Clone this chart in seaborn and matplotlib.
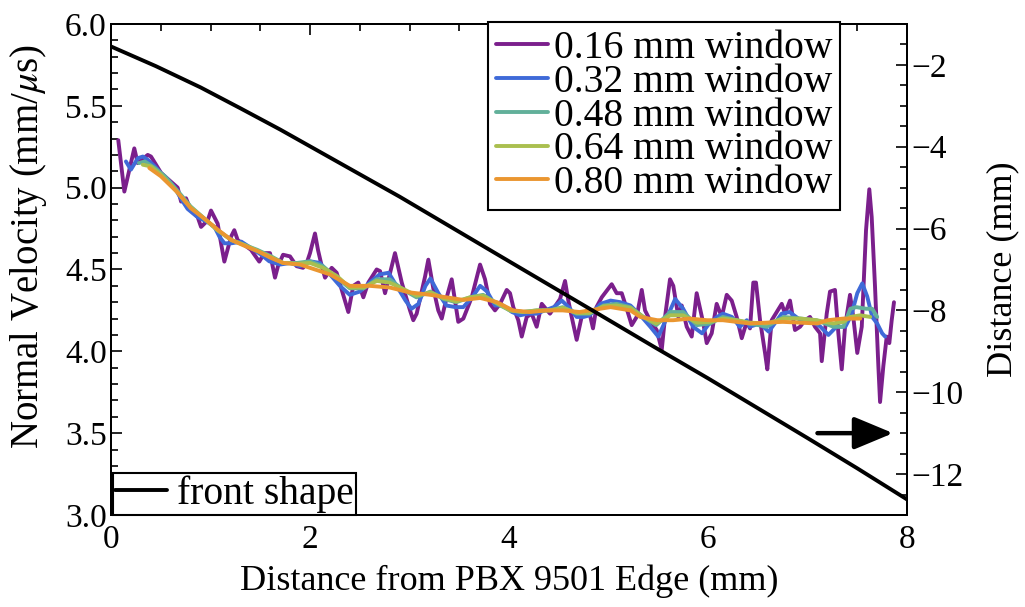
import matplotlib
matplotlib.use("Agg")
import matplotlib.pyplot as plt
from matplotlib.lines import Line2D
from matplotlib.ticker import MultipleLocator, FormatStrFormatter
import numpy as np
import pandas as pd
import seaborn as sns

# velocity traces (x in mm, v in mm/us)
x_016 = [0.073, 0.134, 0.234, 0.268, 0.369, 0.402, 0.503, 0.670, 0.704, 0.754,
         0.804, 0.871, 0.905, 0.972, 1.005, 1.072, 1.106, 1.139, 1.206, 1.239,
         1.273, 1.340, 1.407, 1.490, 1.541, 1.598, 1.648, 1.678, 1.729, 1.799,
         1.866, 1.930, 1.967, 2.000, 2.050, 2.080, 2.118, 2.151, 2.218, 2.268,
         2.319, 2.385, 2.435, 2.485, 2.536, 2.586, 2.670, 2.704, 2.754, 2.854,
         2.922, 3.005, 3.038, 3.072, 3.156, 3.189, 3.239, 3.289, 3.324, 3.374,
         3.424, 3.457, 3.490, 3.541, 3.625, 3.709, 3.759, 3.809, 3.859, 3.910,
         3.977, 4.010, 4.043, 4.093, 4.128, 4.178, 4.228, 4.278, 4.329, 4.412,
         4.513, 4.563, 4.596, 4.630, 4.680, 4.730, 4.781, 4.814, 4.844, 4.879,
         4.932, 5.032, 5.082, 5.133, 5.183, 5.233, 5.283, 5.334, 5.367, 5.417,
         5.484, 5.535, 5.568, 5.618, 5.651, 5.702, 5.736, 5.786, 5.836, 5.886,
         5.953, 5.987, 6.037, 6.087, 6.138, 6.188, 6.238, 6.288, 6.339, 6.389,
         6.422, 6.455, 6.482, 6.523, 6.573, 6.596, 6.640, 6.690, 6.741, 6.774,
         6.824, 6.874, 6.925, 6.975, 7.025, 7.075, 7.126, 7.143, 7.193, 7.226,
         7.276, 7.310, 7.344, 7.377, 7.427, 7.460, 7.500, 7.545, 7.588, 7.621,
         7.645, 7.678, 7.712, 7.729, 7.762, 7.796, 7.822, 7.846, 7.869]
v_016 = [5.29, 4.976, 5.24, 5.15, 5.20, 5.19, 5.09, 5.00, 4.915, 4.935,
         4.86, 4.82, 4.76, 4.80, 4.86, 4.78, 4.66, 4.548, 4.70, 4.74,
         4.68, 4.65, 4.62, 4.548, 4.60, 4.60, 4.45, 4.52, 4.59, 4.58,
         4.52, 4.51, 4.54, 4.60, 4.72, 4.62, 4.52, 4.45, 4.51, 4.48,
         4.375, 4.24, 4.40, 4.42, 4.33, 4.42, 4.50, 4.49, 4.355, 4.60,
         4.42, 4.25, 4.19, 4.23, 4.456, 4.56, 4.385, 4.25, 4.20, 4.33,
         4.44, 4.31, 4.18, 4.20, 4.33, 4.53, 4.44, 4.29, 4.25, 4.29,
         4.375, 4.355, 4.27, 4.19, 4.09, 4.21, 4.23, 4.15, 4.29, 4.23,
         4.32, 4.43, 4.31, 4.21, 4.07, 4.21, 4.25, 4.22, 4.14, 4.27,
         4.33, 4.41, 4.355, 4.355, 4.26, 4.16, 4.21, 4.375, 4.25, 4.19,
         4.13, 4.01, 4.21, 4.44, 4.40, 4.21, 4.28, 4.15, 4.09, 4.355,
         4.17, 4.05, 4.11, 4.29, 4.21, 4.345, 4.31, 4.21, 4.08, 4.18,
         4.14, 4.42, 4.42, 4.19, 3.99, 3.89, 4.19, 4.24, 4.29, 4.23,
         4.31, 4.13, 4.15, 4.19, 4.21, 4.15, 4.11, 3.94, 4.23, 4.365,
         4.375, 4.11, 3.89, 4.15, 4.345, 4.21, 3.99, 4.15, 4.74, 4.99,
         4.82, 4.40, 3.91, 3.69, 3.91, 4.09, 4.05, 4.19, 4.30]

x_032 = [0.15, 0.20, 0.27, 0.32, 0.37, 0.44, 0.50, 0.57, 0.64, 0.70,
         0.77, 0.87, 0.97, 1.04, 1.09, 1.14, 1.21, 1.31, 1.41, 1.51,
         1.59, 1.70, 1.80, 1.90, 2.00, 2.10, 2.20, 2.30, 2.40, 2.50,
         2.60, 2.70, 2.79, 2.87, 2.96, 3.02, 3.09, 3.16, 3.21, 3.29,
         3.37, 3.46, 3.54, 3.63, 3.71, 3.78, 3.86, 3.94, 4.03, 4.11,
         4.19, 4.28, 4.36, 4.45, 4.53, 4.60, 4.68, 4.75, 4.81, 4.92,
         5.02, 5.12, 5.22, 5.32, 5.42, 5.50, 5.59, 5.67, 5.75, 5.85,
         5.94, 6.00, 6.09, 6.15, 6.24, 6.32, 6.39, 6.42, 6.52, 6.61,
         6.67, 6.74, 6.82, 6.93, 7.03, 7.13, 7.21, 7.29, 7.38, 7.44,
         7.50, 7.55, 7.60, 7.65, 7.70, 7.75, 7.78]
v_032 = [5.16, 5.11, 5.18, 5.19, 5.17, 5.13, 5.09, 5.05, 5.00, 4.935,
         4.87, 4.82, 4.79, 4.76, 4.70, 4.66, 4.66, 4.67, 4.63, 4.59,
         4.55, 4.53, 4.54, 4.52, 4.55, 4.54, 4.47, 4.40, 4.345, 4.365,
         4.42, 4.47, 4.48, 4.40, 4.31, 4.26, 4.29, 4.40, 4.445, 4.355,
         4.28, 4.27, 4.27, 4.33, 4.40, 4.365, 4.28, 4.28, 4.24, 4.22,
         4.23, 4.23, 4.25, 4.27, 4.31, 4.27, 4.21, 4.21, 4.22, 4.29,
         4.31, 4.30, 4.28, 4.22, 4.15, 4.09, 4.21, 4.32, 4.26, 4.15,
         4.11, 4.16, 4.21, 4.23, 4.21, 4.15, 4.19, 4.15, 4.17, 4.12,
         4.17, 4.23, 4.24, 4.19, 4.19, 4.15, 4.10, 4.15, 4.15, 4.22,
         4.355, 4.415, 4.335, 4.21, 4.17, 4.11, 4.09]

x_048 = [0.28, 0.34, 0.44, 0.54, 0.67, 0.80, 0.94, 1.07, 1.21, 1.34,
         1.47, 1.61, 1.73, 1.87, 2.00, 2.13, 2.27, 2.40, 2.54, 2.67,
         2.80, 2.94, 3.07, 3.21, 3.34, 3.47, 3.61, 3.74, 3.88, 4.01,
         4.14, 4.28, 4.41, 4.54, 4.68, 4.81, 4.95, 5.08, 5.22, 5.35,
         5.48, 5.62, 5.75, 5.89, 6.02, 6.15, 6.29, 6.42, 6.59, 6.76,
         6.93, 7.09, 7.26, 7.36, 7.43, 7.49, 7.59, 7.65, 7.70]
v_048 = [5.15, 5.16, 5.12, 5.07, 4.98, 4.885, 4.81, 4.74, 4.68, 4.65,
         4.62, 4.58, 4.54, 4.54, 4.55, 4.52, 4.45, 4.385, 4.385, 4.44,
         4.44, 4.375, 4.33, 4.365, 4.32, 4.30, 4.33, 4.345, 4.29, 4.25,
         4.24, 4.25, 4.25, 4.27, 4.23, 4.23, 4.28, 4.29, 4.27, 4.21,
         4.16, 4.24, 4.24, 4.16, 4.17, 4.21, 4.19, 4.17, 4.15, 4.21,
         4.20, 4.19, 4.15, 4.15, 4.26, 4.27, 4.26, 4.26, 4.21]

x_064 = [0.32, 0.40, 0.50, 0.64, 0.80, 0.94, 1.07, 1.21, 1.34, 1.47,
         1.61, 1.73, 1.87, 2.00, 2.13, 2.27, 2.40, 2.54, 2.67, 2.80,
         2.94, 3.07, 3.21, 3.34, 3.47, 3.61, 3.74, 3.88, 4.01, 4.14,
         4.28, 4.41, 4.54, 4.68, 4.81, 4.95, 5.08, 5.22, 5.35, 5.48,
         5.62, 5.75, 5.89, 6.02, 6.15, 6.29, 6.42, 6.59, 6.76, 6.93,
         7.09, 7.26, 7.36, 7.43, 7.53, 7.63]
v_064 = [5.14, 5.13, 5.08, 4.99, 4.88, 4.81, 4.74, 4.68, 4.65, 4.615,
         4.575, 4.54, 4.535, 4.54, 4.51, 4.46, 4.39, 4.39, 4.43, 4.42,
         4.38, 4.34, 4.36, 4.325, 4.305, 4.33, 4.34, 4.295, 4.25, 4.24,
         4.25, 4.25, 4.265, 4.235, 4.235, 4.275, 4.28, 4.265, 4.21, 4.17,
         4.22, 4.22, 4.175, 4.18, 4.20, 4.19, 4.175, 4.17, 4.20, 4.20,
         4.19, 4.17, 4.18, 4.21, 4.22, 4.21]

x_080 = [0.385, 0.50, 0.67, 0.80, 0.94, 1.08, 1.21, 1.34, 1.48, 1.61,
         1.73, 1.90, 2.05, 2.20, 2.40, 2.60, 2.80, 3.00, 3.21, 3.54,
         3.71, 3.88, 4.04, 4.21, 4.38, 4.54, 4.71, 4.81, 5.02, 5.22,
         5.32, 5.49, 5.65, 5.82, 5.99, 6.15, 6.42, 6.75, 7.10, 7.20,
         7.36, 7.53]
v_080 = [5.12, 5.07, 4.97, 4.875, 4.81, 4.74, 4.68, 4.645, 4.61, 4.57,
         4.54, 4.53, 4.50, 4.47, 4.40, 4.40, 4.39, 4.36, 4.345, 4.314,
         4.326, 4.30, 4.25, 4.24, 4.25, 4.25, 4.24, 4.25, 4.27, 4.25,
         4.21, 4.19, 4.19, 4.20, 4.19, 4.19, 4.17, 4.18, 4.17, 4.19,
         4.20, 4.20]

# front shape (right axis, mm)
front_x = [0.0, 0.45, 0.9, 1.3, 1.7, 2.3, 2.9, 3.45, 4.0, 4.88, 5.45,
           6.0, 6.5, 7.0, 7.5, 8.0]
front_d = [-1.55, -2.03, -2.55, -3.06, -3.58, -4.40, -5.22, -6.01, -6.80,
           -8.06, -8.88, -9.66, -10.39, -11.12, -11.86, -12.62]

windows = ["0.16 mm window", "0.32 mm window", "0.48 mm window",
           "0.64 mm window", "0.80 mm window"]
colors = ["#7b1f8c", "#3f6ad8", "#62b09a", "#aabf4f", "#ea9630"]

frames = []
for name, xs, vs in zip(windows, [x_016, x_032, x_048, x_064, x_080],
                        [v_016, v_032, v_048, v_064, v_080]):
    frames.append(pd.DataFrame({"x": xs, "v": vs, "window": name}))
df = pd.concat(frames, ignore_index=True)

sns.set_theme(style="white")
plt.rcParams["font.family"] = ["Liberation Serif", "DejaVu Serif"]
plt.rcParams["mathtext.fontset"] = "stix"
plt.rcParams["text.color"] = "black"
plt.rcParams["axes.labelcolor"] = "black"
plt.rcParams["axes.linewidth"] = 1.4

fig = plt.figure(figsize=(10.25, 6.07), dpi=100)
ax = fig.add_axes([0.1083, 0.1516, 0.7766, 0.8089])

sns.lineplot(data=df, x="x", y="v", hue="window", palette=colors,
             hue_order=windows, estimator=None, sort=False, lw=2.8,
             legend=False, ax=ax)

ax2 = ax.twinx()
sns.lineplot(x=front_x, y=front_d, color="black", lw=2.8,
             estimator=None, ax=ax2)

ax.set_xlim(0, 8)
ax.set_ylim(3.0, 6.0)
ax2.set_ylim(-13, -1)

ax.xaxis.set_major_locator(MultipleLocator(2))
ax.xaxis.set_minor_locator(MultipleLocator(0.5))
ax.yaxis.set_major_locator(MultipleLocator(0.5))
ax.yaxis.set_minor_locator(MultipleLocator(0.1))
ax.yaxis.set_major_formatter(FormatStrFormatter("%.1f"))
ax2.yaxis.set_major_locator(MultipleLocator(2))
ax2.yaxis.set_minor_locator(MultipleLocator(0.5))

for spine in list(ax.spines.values()) + list(ax2.spines.values()):
    spine.set_color("black")
    spine.set_linewidth(1.4)

ax.tick_params(axis="both", which="both", direction="in", top=True,
               right=False, colors="black", labelsize=24, width=1.2)
ax.tick_params(axis="both", which="major", length=8)
ax.tick_params(axis="both", which="minor", length=5)
ax.tick_params(axis="y", pad=3)
ax.tick_params(axis="x", pad=7)
ax2.tick_params(axis="y", which="both", direction="in", right=True,
                left=False, colors="black", labelsize=24, width=1.2, pad=3)
ax2.tick_params(axis="y", which="major", length=8)
ax2.tick_params(axis="y", which="minor", length=5)

ax.set_xlabel("Distance from PBX 9501 Edge (mm)", fontsize=26)
ax.set_ylabel(r"Normal Velocity (mm/$\mu$s)", fontsize=28)
ax2.set_ylabel("Distance (mm)", fontsize=26)
ax.xaxis.set_label_coords(0.5, -0.1)
ax.yaxis.set_label_coords(-0.078, 0.546)
ax2.yaxis.set_label_coords(1.10, 0.5)

# arrow pointing to the right-hand axis
ax.annotate("", xy=(7.86, 3.50), xytext=(7.10, 3.50),
            arrowprops=dict(arrowstyle="-|>,head_length=1.2,head_width=0.5",
                            lw=3.2, color="black", shrinkA=0, shrinkB=0,
                            mutation_scale=20))

handles = [Line2D([], [], color=c, lw=2.8) for c in colors]
leg1 = ax2.legend(handles, windows, loc="upper right",
                  bbox_to_anchor=(0.9158, 1.004), borderaxespad=0,
                  fontsize=28.5, labelspacing=-0.08, handlelength=1.3,
                  handletextpad=0.15, borderpad=0.2, frameon=True,
                  fancybox=False, edgecolor="black", framealpha=1)
leg1.get_frame().set_linewidth(1.5)
ax2.add_artist(leg1)

leg2 = ax2.legend([Line2D([], [], color="black", lw=2.8)], ["front shape"],
                  loc="lower left", bbox_to_anchor=(0.0025, 0.0),
                  borderaxespad=0, fontsize=28.5, handlelength=1.3,
                  handletextpad=0.25, borderpad=0.06, frameon=True,
                  fancybox=False, edgecolor="black", framealpha=1)
leg2.get_frame().set_linewidth(1.5)

fig.savefig("out.png", dpi=100)
